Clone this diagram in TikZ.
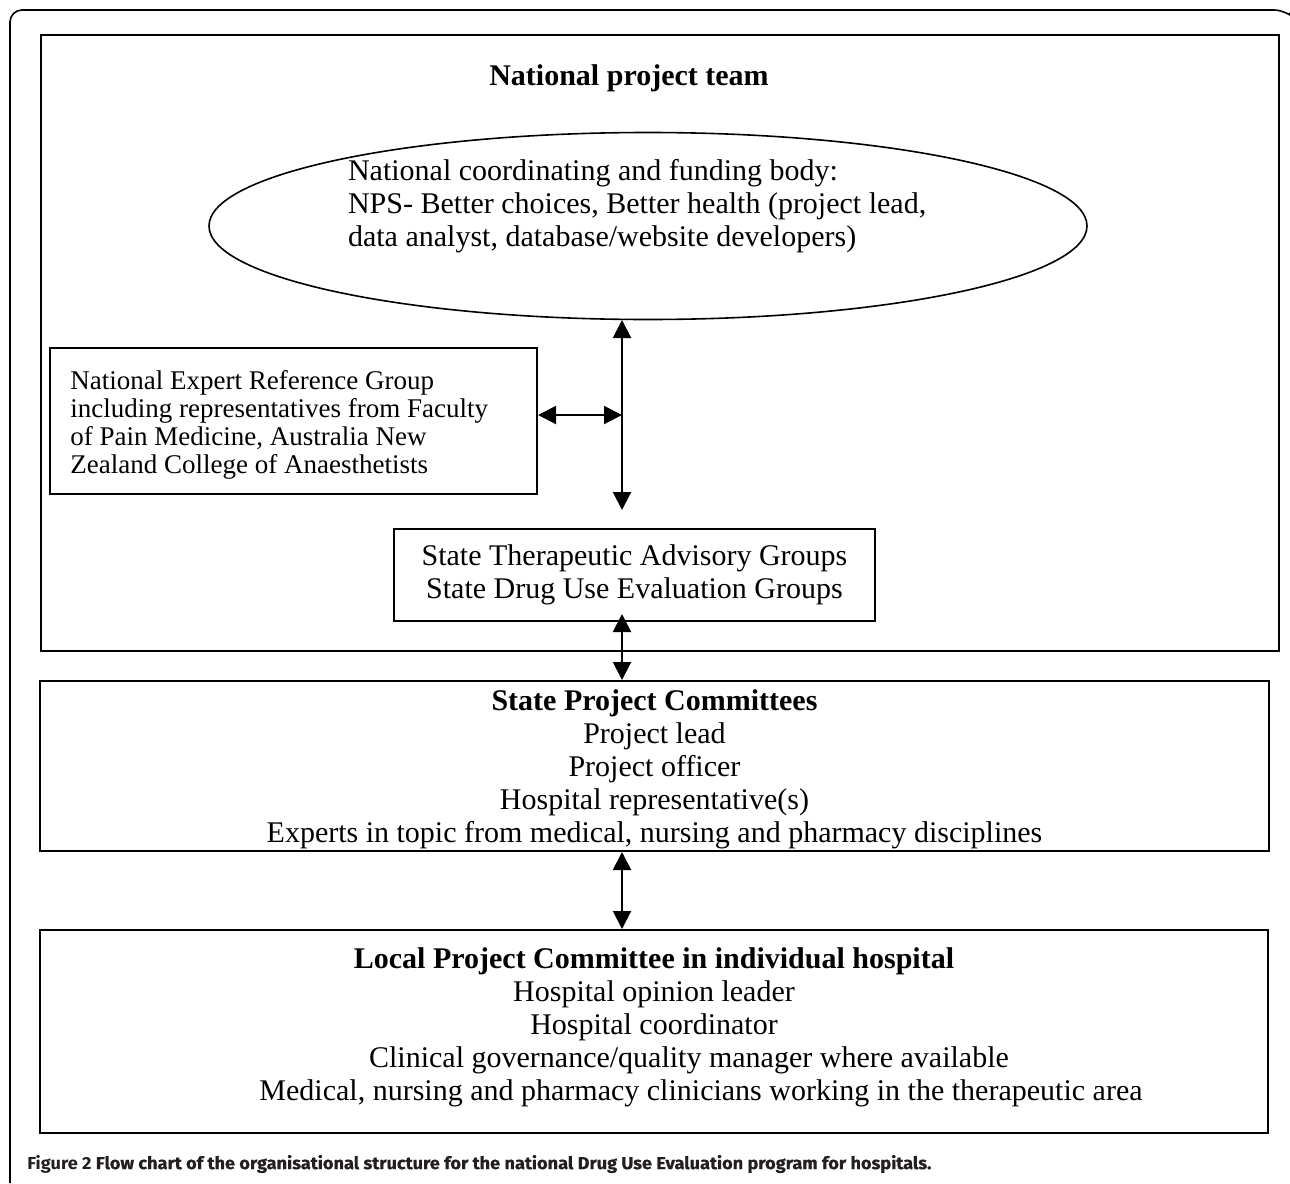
\documentclass[tikz,border=0pt]{standalone}
\usepackage{fontspec}
\setmainfont{Liberation Serif}
\newfontfamily\capfont{Fira Sans}
\newfontfamily\capmed[FakeBold=0.6]{Fira Sans}
\usetikzlibrary{calc, arrows.meta, shapes.geometric}

\definecolor{capgray}{HTML}{231F20}

\tikzset{
  box/.style={draw, line width=1pt, inner sep=0pt},
  body/.style={font=\fontsize{15}{16.5}\selectfont, align=center},
  biarrow/.style={line width=1pt, {Triangle[length=9pt,width=9pt]}-{Triangle[length=9pt,width=9pt]}},
}

\begin{document}
\begin{tikzpicture}[x=0.5pt, y=-0.5pt]
			\useasboundingbox (0,0) rectangle (1290,1183);
			\draw[line width=0.8pt, rounded corners=6pt] (10,1183) -- (10,10) -- (1286,10) -- (1289,13);
			% national level
			\node[box, minimum width=619pt, minimum height=308pt] (npt) at (660,343) {};
			\node[body, font=\bfseries\fontsize{15}{16.5}\selectfont] (npttitle) at (629,78) {National project team};
			\node[draw, ellipse, line width=0.8pt, inner sep=0pt, minimum width=439pt, minimum height=93.5pt] (ncb) at (648,226) {};
			\node[body, align=left, anchor=west] (ncbtext) at (341,206) {National coordinating and funding body:\\NPS- Better choices, Better health (project lead,\\data analyst, database/website developers)};
			\node[box, minimum width=243.5pt, minimum height=73pt] (nerg) at (293.5,421) {};
			\node[align=left, anchor=west, inner sep=0pt, font=\fontsize{13.5}{14}\selectfont] (nergtext) at (70,425) {National Expert Reference Group\\including representatives from Faculty\\of Pain Medicine, Australia New\\Zealand College of Anaesthetists};
			\node[box, body, minimum width=240.5pt, minimum height=46pt] (sdg) at (634.5,575) {State Therapeutic Advisory Groups\\State Drug Use Evaluation Groups};
			% state and local level
			\node[box, minimum width=614.5pt, minimum height=85pt] (spc) at (654.5,766) {};
			\node[body] (spctext) at (654.5,769) {\textbf{State Project Committees}\\Project lead\\Project officer\\Hospital representative(s)\\Experts in topic from medical, nursing and pharmacy disciplines};
			\node[box, minimum width=614pt, minimum height=101.5pt] (lpc) at (654,1031.5) {};
			\node[body] (lpctext) at (654,1027) {\textbf{Local Project Committee in individual hospital}\\Hospital opinion leader\\Hospital coordinator\\\hspace*{35pt}Clinical governance/quality manager where available\\\hspace*{47pt}Medical, nursing and pharmacy clinicians working in the therapeutic area};
			% connectors
			\coordinate (vup) at (622,320);
			\coordinate (vmid) at (622,415);
			\coordinate (vdown) at (622,510);
			\draw[biarrow] (vup) -- (vdown);
			\draw[biarrow] (nerg.east |- vmid) -- (vmid);
			\draw[biarrow] ($(sdg.south -| vmid)+(0,-8)$) -- (spc.north -| vmid);
			\draw[biarrow] (spc.south -| vmid) -- (lpc.north -| vmid);
			% caption
			\node[anchor=west, inner sep=0pt, text=capgray] (caption) at (27,1164) {\resizebox{452pt}{\height}{\fontsize{8.7}{10}\selectfont\capfont\bfseries Figure 2 \capmed Flow chart of the organisational structure for the national Drug Use Evaluation program for hospitals.}};
		\end{tikzpicture}
\end{document}
